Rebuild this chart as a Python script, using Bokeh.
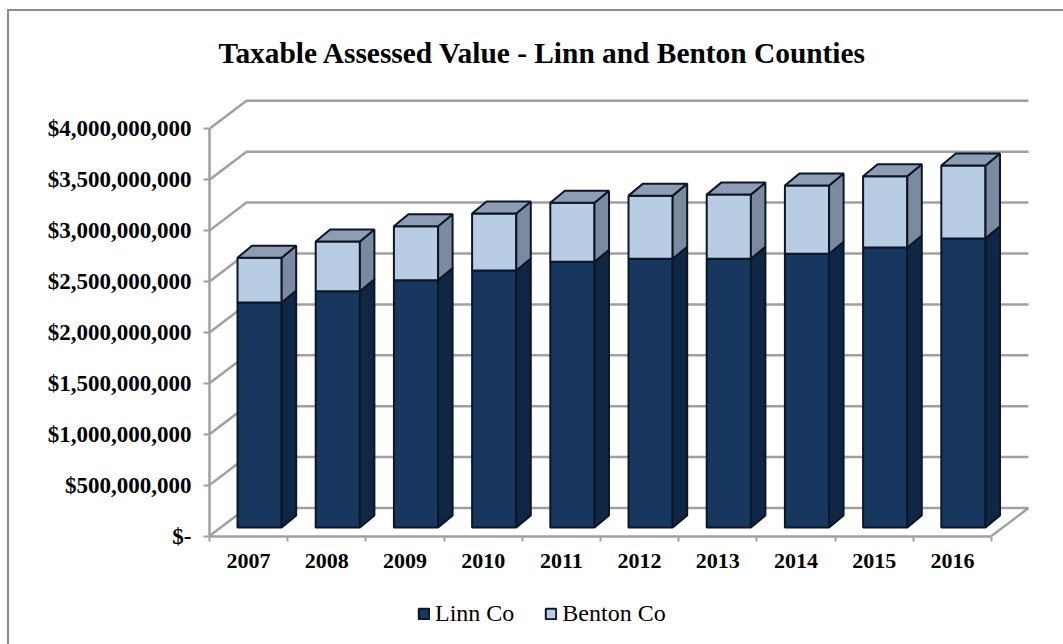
from bokeh.plotting import figure
from bokeh.layouts import column
from bokeh.embed import file_html
from bokeh.resources import INLINE
from bokeh.models import (Range1d, LinearAxis, FixedTicker, NumeralTickFormatter, Legend, LegendItem, Title)

years = ["2007", "2008", "2009", "2010", "2011", "2012", "2013", "2014", "2015", "2016"]
linn = [2.21e9, 2.32e9, 2.43e9, 2.525e9, 2.61e9, 2.64e9, 2.64e9, 2.69e9, 2.75e9, 2.84e9]
total = [2.65e9, 2.81e9, 2.96e9, 3.085e9, 3.19e9, 3.26e9, 3.27e9, 3.36e9, 3.45e9, 3.555e9]
benton = [t - l for t, l in zip(total, linn)]
y_ticks = [0, 5e8, 1e9, 1.5e9, 2e9, 2.5e9, 3e9, 3.5e9, 4e9]

# pixel scale of the category and value axes
PX_X = 78.2
PX_Y = 50.9 / 5e8
fw, fh = 854, 466
GREY = "#A0A0A0"
DARK = "#0B1626"
LINN = "#17375E"
BENTON = "#B8CCE4"
SERIF = "Liberation Serif"

p = figure(frame_width=fw, frame_height=fh, output_backend="svg", toolbar_location=None,
           x_range=Range1d(0, fw / PX_X), y_range=Range1d(-0.5 / PX_Y, (fh - 0.5) / PX_Y),
           x_axis_type=None, y_axis_type=None,
           min_border_left=200, min_border_right=0, min_border_top=59, min_border_bottom=60)
p.outline_line_color = None
p.grid.visible = False
p.background_fill_color = "white"
p.border_fill_color = "white"

wall_dx, wall_dy = 37 / PX_X, 28 / PX_Y
bar_dx, bar_dy = 14.5 / PX_X, 12 / PX_Y
base_dx, base_dy = 11 / PX_X, 8.5 / PX_Y
n = len(years)

# walls and floor
xs, ys = [], []
for v in y_ticks:
    xs.append([0, wall_dx, n + wall_dx])
    ys.append([v, v + wall_dy, v + wall_dy])
xs.append([n, n + wall_dx])
ys.append([0, wall_dy])
p.multi_line(xs, ys, line_color=GREY, line_width=2.5)

width = 0.565
for i in range(n):
    l = i + 0.5 - width / 2 + base_dx
    r = l + width
    b0 = base_dy
    b1 = base_dy + linn[i]
    b2 = base_dy + total[i]
    for lo, hi, front, side in ((b0, b1, LINN, "#0F2744"), (b1, b2, BENTON, "#7B8A9E")):
        p.quad(left=[l], right=[r], bottom=[lo], top=[hi], fill_color=front,
               line_color=DARK, line_width=2)
        p.patch([r, r + bar_dx, r + bar_dx, r], [lo, lo + bar_dy, hi + bar_dy, hi],
                fill_color=side, line_color=DARK, line_width=2)
    p.patch([l, r, r + bar_dx, l + bar_dx], [b2, b2, b2 + bar_dy, b2 + bar_dy],
            fill_color="#8E9DB3", line_color=DARK, line_width=2)

yaxis = LinearAxis(ticker=FixedTicker(ticks=y_ticks), bounds=(0, 4e9),
                   formatter=NumeralTickFormatter(format="$0,0"),
                   major_label_overrides={0: "$-"})
yaxis.axis_line_color = GREY
yaxis.axis_line_width = 2.5
yaxis.major_tick_line_color = GREY
yaxis.major_tick_line_width = 2
yaxis.major_tick_in = 0
yaxis.major_tick_out = 6
yaxis.minor_tick_line_color = None
yaxis.major_label_standoff = 12
yaxis.major_label_text_font = SERIF
yaxis.major_label_text_font_style = "bold"
yaxis.major_label_text_font_size = "23px"
yaxis.major_label_text_color = "black"
p.add_layout(yaxis, "left")

centers = [i + 0.5 for i in range(n)]
xaxis = LinearAxis(ticker=FixedTicker(ticks=centers, minor_ticks=list(range(n + 1))), bounds=(0, n),
                   major_label_overrides=dict(zip(centers, years)))
xaxis.axis_line_color = GREY
xaxis.axis_line_width = 2.5
xaxis.major_tick_line_color = None
xaxis.major_tick_in = 0
xaxis.major_tick_out = 0
xaxis.minor_tick_line_color = GREY
xaxis.minor_tick_line_width = 2
xaxis.minor_tick_in = 0
xaxis.minor_tick_out = 5
xaxis.major_label_standoff = 12
xaxis.major_label_text_font = SERIF
xaxis.major_label_text_font_style = "bold"
xaxis.major_label_text_font_size = "22px"
xaxis.major_label_text_color = "black"
p.add_layout(xaxis, "below")

title = Title(text="Taxable Assessed Value - Linn and Benton Counties", align="left", offset=9,
              standoff=3, text_font=SERIF, text_font_style="bold", text_font_size="29.4px",
              text_color="black")
p.add_layout(title, "above")

# legend strip under the chart; its key glyphs sit outside the strip's range, only their legend swatches show
strip = figure(frame_width=1054, frame_height=48, output_backend="svg", toolbar_location=None,
               x_range=Range1d(0, 1), y_range=Range1d(0, 1), x_axis_type=None, y_axis_type=None,
               min_border_left=0, min_border_right=0, min_border_top=0, min_border_bottom=0)
strip.outline_line_color = None
strip.grid.visible = False
strip.border_fill_color = "white"
swatch_linn = strip.quad(left=[2], right=[3], bottom=[2], top=[3], fill_color=LINN, line_color=DARK, line_width=2)
swatch_benton = strip.quad(left=[2], right=[3], bottom=[2], top=[3], fill_color=BENTON, line_color=DARK, line_width=2)
legend = Legend(items=[LegendItem(label="Linn Co", renderers=[swatch_linn]),
                       LegendItem(label="Benton Co", renderers=[swatch_benton])],
                orientation="horizontal", location=(408, 17), border_line_color=None,
                background_fill_alpha=0, glyph_width=13, glyph_height=13, label_standoff=5,
                spacing=30, label_text_font=SERIF, label_text_font_size="24px",
                label_text_color="black", padding=0, margin=0)
strip.add_layout(legend, "center")

page = column(p, strip, spacing=0,
              styles={"margin-left": "7px", "margin-top": "9px",
                      "border-left": "2px solid #8C8C8C", "border-top": "2px solid #8C8C8C"})

open("out.html", "w").write(file_html(page, INLINE))
